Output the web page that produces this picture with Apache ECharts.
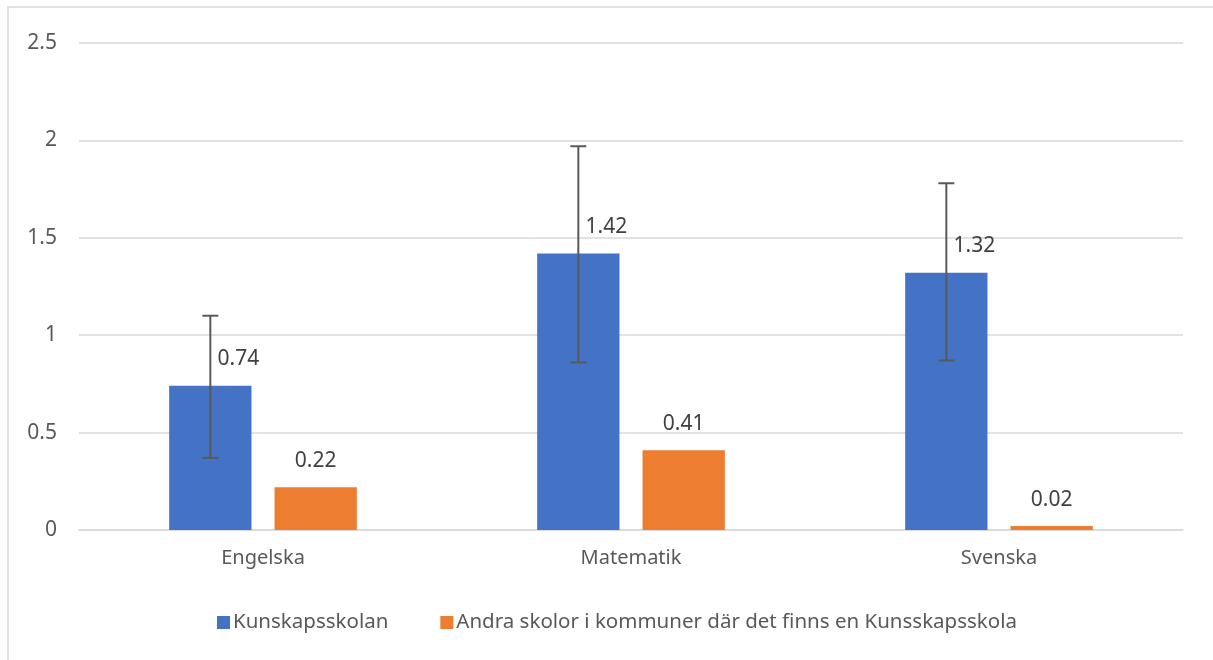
<!DOCTYPE html>
<html>
<head>
<meta charset="utf-8">
<script src="https://cdn.jsdelivr.net/npm/echarts@6/dist/echarts.min.js"></script>
<style>
  html, body { margin: 0; padding: 0; background: #fff; }
  #chart { width: 1213px; height: 660px; }
</style>
</head>
<body>
<div id="chart"></div>
<script>
// data
const categories = ["Engelska", "Matematik", "Svenska"];
const seriesNames = ["Kunskapsskolan", "Andra skolor i kommuner där det finns en Kunsskapsskola"];
const kunskapsskolan = [0.74, 1.42, 1.32];
const andraSkolor = [0.22, 0.41, 0.02];
const errLow = [0.37, 0.86, 0.87];
const errHigh = [1.10, 1.97, 1.78];
const yTicks = [0, 0.5, 1, 1.5, 2, 2.5];

const textColor = "#595959";
const fontFamily = "'Noto Sans', sans-serif";
const catGap = 0.49; // barCategoryGap
const barGap = 0.28;

const myChart = echarts.init(document.getElementById("chart"));

const options = {
  backgroundColor: "#fff",
  animation: false,
  textStyle: { fontFamily: fontFamily },
  graphic: [
    {
      type: "rect",
      shape: { x: 8, y: 7, width: 1230, height: 700 },
      style: { fill: "none", stroke: "#d9d9d9", lineWidth: 1.5 },
      silent: true,
    },
  ],
  grid: {
    left: 79,
    right: 30,
    top: 43,
    bottom: 130,
  },
  legend: {
    left: 212,
    top: 607,
    itemWidth: 13,
    itemHeight: 13,
    itemGap: 52,
    icon: "rect",
    textStyle: {
      color: textColor,
      fontSize: 20.5,
      padding: [0, 0, 0, -2],
    },
    data: seriesNames,
  },
  xAxis: {
    type: "category",
    data: categories,
    axisLine: { lineStyle: { color: "#d9d9d9", width: 1.5 } },
    axisTick: { show: false },
    axisLabel: { color: textColor, fontSize: 20, margin: 18 },
  },
  yAxis: {
    type: "value",
    min: yTicks[0],
    max: yTicks[yTicks.length - 1],
    interval: 0.5,
    axisLine: { show: false },
    axisTick: { show: false },
    axisLabel: { color: textColor, fontSize: 21, margin: 22 },
    splitLine: { lineStyle: { color: "#d9d9d9", width: 1.5 } },
  },
  series: [
    {
      name: seriesNames[0],
      type: "bar",
      data: kunskapsskolan,
      barCategoryGap: (catGap * 100) + "%",
      barGap: (barGap * 100) + "%",
      itemStyle: { color: "#4472C4" },
      label: {
        show: true,
        position: "top",
        distance: 16,
        offset: [28, 0],
        color: "#404040",
        fontSize: 21,
      },
      z: 2,
    },
    {
      name: seriesNames[1],
      type: "bar",
      data: andraSkolor,
      itemStyle: { color: "#ED7D31" },
      label: {
        show: true,
        position: "top",
        distance: 16,
        color: "#404040",
        fontSize: 21,
      },
      z: 2,
    },
    {
      // error bars for Kunskapsskolan
      type: "custom",
      name: "err",
      data: categories.map((c, i) => [i, errLow[i], errHigh[i]]),
      z: 3,
      renderItem: function (params, api) {
        const band = api.size([1, 0])[0];
        const groupW = band * (1 - catGap);
        const barW = groupW / (2 + barGap);
        const off = -(barW + barW * barGap) / 2;
        const lo = api.coord([api.value(0), api.value(1)]);
        const hi = api.coord([api.value(0), api.value(2)]);
        const x = lo[0] + off;
        const cap = 8;
        const style = { stroke: "#595959", lineWidth: 2 };
        return {
          type: "group",
          children: [
            { type: "line", shape: { x1: x, y1: lo[1], x2: x, y2: hi[1] }, style: style },
            { type: "line", shape: { x1: x - cap, y1: lo[1], x2: x + cap, y2: lo[1] }, style: style },
            { type: "line", shape: { x1: x - cap, y1: hi[1], x2: x + cap, y2: hi[1] }, style: style },
          ],
        };
      },
    },
  ],
};

myChart.setOption(options, true);
</script>
</body>
</html>
